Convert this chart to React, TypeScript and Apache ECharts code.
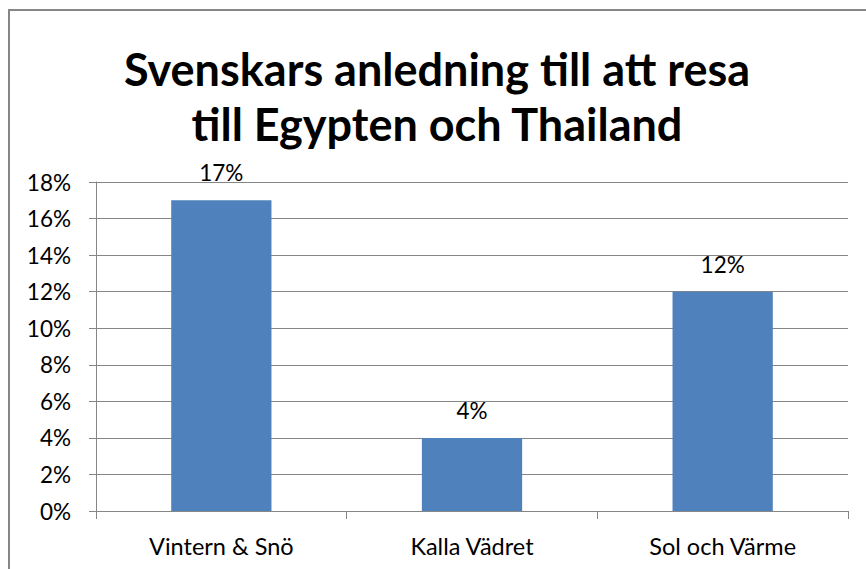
import React, { useEffect, useRef } from "react";
import * as echarts from "echarts";

const titleLines = ["Svenskars anledning till att resa", "till Egypten och Thailand"];
const categories = ["Vintern & Snö", "Kalla Vädret", "Sol och Värme"];
const values = [17, 4, 12];
const yMin = 0;
const yMax = 18;
const yStep = 2;

export default function App() {
  const ref = useRef<HTMLDivElement>(null);
  useEffect(() => {
    const chart = echarts.init(ref.current!, null, { renderer: "svg" });
    const font = "Lato";
    chart.setOption({
      animation: false,
      backgroundColor: "#ffffff",
      title: {
        text: titleLines.join("\n"),
        left: 432,
        textAlign: "center",
        top: 36,
        textStyle: { fontFamily: font, fontWeight: "bold", fontSize: 45, lineHeight: 55, color: "#000" },
      },
      graphic: [
        {
          type: "rect",
          shape: { x: 9, y: 10, width: 900, height: 600 },
          style: { fill: "none", stroke: "#868686", lineWidth: 2 },
          silent: true,
        },
      ],
      grid: { left: 96, right: 18, top: 182, bottom: 58, containLabel: false },
      xAxis: {
        type: "category",
        data: categories,
        axisLine: { lineStyle: { color: "#868686", width: 1 } },
        axisTick: { show: true, length: 8, lineStyle: { color: "#868686" }, alignWithLabel: false },
        axisLabel: { fontFamily: font, fontSize: 23.5, color: "#000", margin: 23 },
      },
      yAxis: {
        type: "value",
        min: yMin,
        max: yMax,
        interval: yStep,
        axisLine: { show: true, lineStyle: { color: "#868686", width: 1 } },
        axisTick: { show: true, length: 7, lineStyle: { color: "#868686" } },
        splitLine: { lineStyle: { color: "#868686", width: 1 } },
        axisLabel: { fontFamily: font, fontSize: 22.5, color: "#000", margin: 25, formatter: "{value}%" },
      },
      series: [
        {
          type: "bar",
          data: values,
          barWidth: "40%",
          itemStyle: { color: "#4F81BD" },
          label: {
            show: true,
            position: "top",
            distance: 16,
            formatter: "{c}%",
            fontFamily: font,
            fontSize: 22.5,
            color: "#000",
          },
        },
      ],
    });
    return () => chart.dispose();
  }, []);
  return <div ref={ref} style={{ width: 866, height: 569, position: "absolute", left: 0, top: 0 }} />;
}
